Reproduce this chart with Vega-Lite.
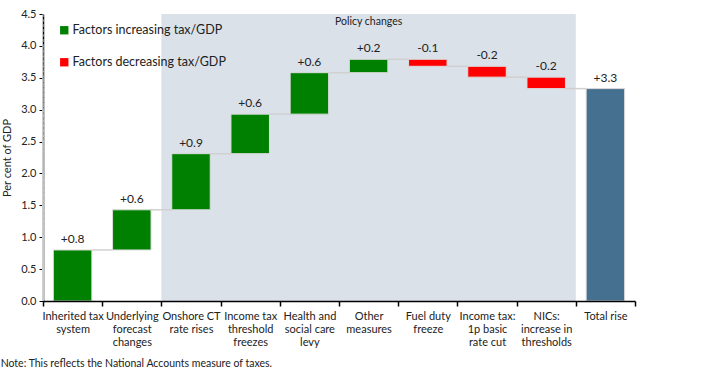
{
  "$schema": "https://vega.github.io/schema/vega-lite/v6.json",
  "width": 592,
  "height": 287,
  "autosize": {"type": "none"},
  "padding": {"left": 43, "top": 14, "right": 68, "bottom": 76},
  "config": {
    "font": "Lato",
    "view": {"stroke": null},
    "text": {"font": "Lato"},
    "axisY": {
      "values": [0, 0.5, 1, 1.5, 2, 2.5, 3, 3.5, 4, 4.5],
      "format": ".1f",
      "labelFontSize": 11,
      "labelColor": "#222",
      "labelOverlap": false,
      "grid": false,
      "domainColor": "#000",
      "domainWidth": 1.5,
      "tickColor": "#000",
      "tickSize": 4,
      "labelPadding": 3,
      "titleFontSize": 11,
      "titleFontWeight": "normal",
      "titleColor": "#222",
      "titlePadding": 8
    }
  },
  "title": {
    "text": "Note: This reflects the National Accounts measure of taxes.",
    "orient": "bottom",
    "anchor": "start",
    "frame": "bounds",
    "fontSize": 10.5,
    "fontWeight": "normal",
    "color": "#222",
    "offset": 12,
    "dx": -1
  },
  "datasets": {
    "bars": [
      {"cat": "Inherited tax|system", "start": 0, "end": 0.8, "type": "Factors increasing tax/GDP", "label": "+0.8", "next": "Underlying|forecast|changes"},
      {"cat": "Underlying|forecast|changes", "start": 0.8, "end": 1.43, "type": "Factors increasing tax/GDP", "label": "+0.6", "next": "Onshore CT|rate rises"},
      {"cat": "Onshore CT|rate rises", "start": 1.43, "end": 2.31, "type": "Factors increasing tax/GDP", "label": "+0.9", "next": "Income tax|threshold|freezes"},
      {"cat": "Income tax|threshold|freezes", "start": 2.31, "end": 2.93, "type": "Factors increasing tax/GDP", "label": "+0.6", "next": "Health and|social care|levy"},
      {"cat": "Health and|social care|levy", "start": 2.93, "end": 3.58, "type": "Factors increasing tax/GDP", "label": "+0.6", "next": "Other|measures"},
      {"cat": "Other|measures", "start": 3.58, "end": 3.79, "type": "Factors increasing tax/GDP", "label": "+0.2", "next": "Fuel duty|freeze"},
      {"cat": "Fuel duty|freeze", "start": 3.79, "end": 3.68, "type": "Factors decreasing tax/GDP", "label": "-0.1", "next": "Income tax:|1p basic|rate cut"},
      {"cat": "Income tax:|1p basic|rate cut", "start": 3.68, "end": 3.51, "type": "Factors decreasing tax/GDP", "label": "-0.2", "next": "NICs:|increase in|thresholds"},
      {"cat": "NICs:|increase in|thresholds", "start": 3.51, "end": 3.33, "type": "Factors decreasing tax/GDP", "label": "-0.2", "next": "Total rise"},
      {"cat": "Total rise", "start": 0, "end": 3.33, "type": "Total", "label": "+3.3", "next": null}
    ],
    "shade": [{"from": "Onshore CT|rate rises", "to": "NICs:|increase in|thresholds", "mid": "Other|measures", "text": "Policy changes", "ytop": 4.5}],
    "grid": [{"v": 0.5}, {"v": 1.0}, {"v": 1.5}, {"v": 2.0}, {"v": 2.5}, {"v": 3.0}, {"v": 3.5}, {"v": 4.0}, {"v": 4.5}]
  },
  "encoding": {
    "x": {
      "field": "cat",
      "type": "nominal",
      "scale": {
        "domain": ["Inherited tax|system", "Underlying|forecast|changes", "Onshore CT|rate rises", "Income tax|threshold|freezes", "Health and|social care|levy", "Other|measures", "Fuel duty|freeze", "Income tax:|1p basic|rate cut", "NICs:|increase in|thresholds", "Total rise"],
        "paddingInner": 0,
        "paddingOuter": 0
      },
      "axis": {
        "title": null,
        "labelAngle": 0,
        "labelExpr": "split(datum.label, '|')",
        "labelFontSize": 11,
        "labelColor": "#222",
        "labelLineHeight": 13,
        "labelPadding": 4,
        "domainColor": "#000",
        "domainWidth": 1.5,
        "tickColor": "#000",
        "tickWidth": 1.5,
        "tickSize": 5,
        "tickBand": "extent",
        "labelBound": false,
        "labelOverlap": false
      }
    }
  },
  "layer": [
    {
      "data": {"name": "shade"},
      "mark": {"type": "rect", "color": "#DAE1E9"},
      "encoding": {
        "x": {"field": "from", "type": "nominal", "bandPosition": 0},
        "x2": {"field": "to", "bandPosition": 1}
      }
    },
    {
      "data": {"name": "grid"},
      "mark": {"type": "rule", "color": "#cfcfcf", "strokeDash": [3, 2], "strokeWidth": 1},
      "encoding": {
        "y": {"field": "v", "type": "quantitative", "scale": {"domain": [0, 4.5], "nice": false},
          "axis": {"title": "Per cent of GDP"}}
      }
    },
    {
      "data": {"name": "shade"},
      "mark": {"type": "text", "fontSize": 10.5, "color": "#222", "baseline": "middle", "dy": 8},
      "encoding": {
        "x": {"field": "mid", "type": "nominal"},
        "y": {"field": "ytop", "type": "quantitative"},
        "text": {"field": "text"}
      }
    },
    {
      "data": {"name": "bars"},
      "transform": [{"filter": "datum.next != null"}],
      "mark": {"type": "rule", "color": "#d0d0d0", "strokeWidth": 1.5},
      "encoding": {
        "x": {"field": "cat", "type": "nominal", "bandPosition": 0.82},
        "x2": {"field": "next", "bandPosition": 0.18},
        "y": {"field": "end", "type": "quantitative"}
      }
    },
    {
      "data": {"name": "bars"},
      "mark": {"type": "bar", "width": {"band": 0.65}, "stroke": "#dcdcdc", "strokeWidth": 1},
      "encoding": {
        "y": {"field": "start", "type": "quantitative"},
        "y2": {"field": "end"},
        "color": {
          "field": "type",
          "type": "nominal",
          "scale": {"domain": ["Factors increasing tax/GDP", "Factors decreasing tax/GDP", "Total"], "range": ["#008000", "#FF0000", "#46708F"]},
          "legend": {
            "title": null,
            "values": ["Factors increasing tax/GDP", "Factors decreasing tax/GDP"],
            "orient": "none",
            "legendX": 15,
            "legendY": 10,
            "symbolType": "square",
            "symbolSize": 70,
            "symbolStrokeWidth": 0,
            "labelFontSize": 12.5,
            "labelColor": "#222",
            "rowPadding": 19,
            "labelOffset": 2
          }
        }
      }
    },
    {
      "data": {"name": "bars"},
      "transform": [{"calculate": "max(datum.start, datum.end)", "as": "top"}],
      "mark": {"type": "text", "fontSize": 12, "color": "#222", "baseline": "bottom", "dy": -4},
      "encoding": {
        "y": {"field": "top", "type": "quantitative"},
        "text": {"field": "label"}
      }
    }
  ]
}
